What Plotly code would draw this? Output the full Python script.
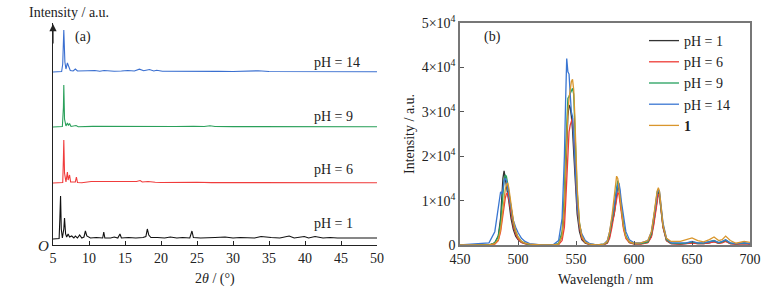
import plotly.graph_objects as go

W, H = 779, 298
FONT = "Liberation Serif"

# ---------------- Panel (a): XRD patterns (intensity above each baseline, a.u.) ----------------
xrd_offsets = {"pH = 1": 6, "pH = 6": 62, "pH = 9": 118, "pH = 14": 173}

ph1_2theta = [5.0, 5.85, 5.95, 6.05, 6.15, 6.3, 6.5, 6.6, 6.75, 6.9, 7.1, 7.3, 7.6, 7.9, 8.1, 8.4, 8.7, 9.0, 9.3,
              9.5, 9.7, 10.2, 11.0, 11.9, 12.05, 12.2, 13.0, 13.5, 14.0, 14.3, 14.5, 15.5, 16.5, 17.5, 17.9, 18.1,
              18.3, 18.6, 19.5, 20.5, 21.3, 22.2, 23.0, 24.0, 24.3, 24.5, 25.5, 26.5, 27.5, 28.9, 30.0, 31.0, 32.0,
              33.0, 33.9, 34.3, 35.3, 36.5, 37.8, 38.5, 39.9, 40.5, 41.4, 42.5, 43.5, 44.5, 45.5, 46.5, 48.2, 49.0, 50.0]
ph1_int = [0, 0.5, 20, 43, 10, 1, 10, 21, 5, 2, 5, 2, 3, 1, 3, 1, 4, 1, 2,
           8, 3, 1, 1.5, 1, 7, 1, 1, 2, 1, 5, 1, 1.5, 1, 1.5, 2.5, 10,
           4, 1.5, 1.5, 1, 2, 1, 1.5, 1, 8, 1.5, 1, 1, 1.5, 2, 1, 1.5, 1,
           1, 2.5, 2, 1.5, 1, 3, 1, 2.5, 1, 2.5, 1, 1.5, 1, 1, 1.5, 1.5, 1, 1]

ph6_2theta = [5.0, 6.35, 6.45, 6.5, 6.6, 6.8, 7.0, 7.1, 7.3, 7.45, 8.1, 8.25, 8.4, 9.0, 10.3, 11.0, 12.0, 13.5, 14.0,
              15.2, 16.2, 16.6, 17.1, 17.4, 18.2, 18.6, 19.2, 20.0, 21.5, 22.8, 23.6, 25.0, 27.0, 30.0, 34.0, 38.0,
              42.0, 46.0, 50.0]
ph6_int = [0, 0.5, 25, 43, 10, 1, 11, 3, 8, 1, 1, 6, 0.5, 0.3, 1.5, 1.5, 1.5, 1.2, 1.5,
           1.5, 1.5, 1.5, 2.5, 1, 1.5, 1.5, 0.8, 0.5, 0.5, 0.7, 1.2, 0.8, 0.4, 0.4, 0.7, 0.4,
           0.3, 0.3, 0.3]

ph9_2theta = [5.0, 6.3, 6.45, 6.5, 6.6, 6.8, 7.0, 7.15, 7.3, 7.5, 8.2, 8.5, 10.5, 12.5, 15.0, 17.0, 18.4, 20.0,
              22.0, 24.5, 26.0, 26.8, 27.5, 30.0, 34.0, 38.0, 42.0, 46.0, 50.0]
ph9_int = [0, 0.5, 20, 42, 8, 1, 4, 1.5, 3.5, 0.5, 1.5, 0.3, 0.6, 0.5, 0.6, 1, 0.8, 0.5,
           0.5, 0.8, 0.5, 1.2, 0.5, 0.4, 0.5, 0.4, 0.4, 0.3, 0.3]

ph14_2theta = [5.0, 6.2, 6.35, 6.5, 6.65, 6.8, 7.0, 7.2, 7.4, 7.8, 8.1, 8.4, 9.0, 9.8, 10.8, 11.5, 12.1, 12.8,
               13.5, 14.5, 15.4, 16.3, 17.0, 17.6, 18.4, 19.0, 19.4, 20.2, 22.0, 23.8, 25.0, 28.0, 30.0, 33.5,
               35.0, 38.0, 41.0, 45.0, 50.0]
ph14_int = [0, 0.5, 8, 42, 10, 3, 9, 6, 1.5, 1, 3, 1, 0.8, 1.2, 1.5, 0.8, 1.5, 0.8,
            0.8, 1, 1.5, 1, 2.8, 1.2, 2.5, 1, 1.8, 0.8, 0.6, 0.9, 0.5, 0.6, 0.5, 1.2,
            0.5, 0.4, 0.5, 0.3, 0.3]

xrd_series = [
    ("pH = 1", ph1_2theta, ph1_int, "#111111"),
    ("pH = 6", ph6_2theta, ph6_int, "#f03c3c"),
    ("pH = 9", ph9_2theta, ph9_int, "#2aa05a"),
    ("pH = 14", ph14_2theta, ph14_int, "#3a6fd0"),
]
xrd_ticks = [5, 10, 15, 20, 25, 30, 35, 40, 45, 50]

# ---------------- Panel (b): emission spectra (intensity in units of 1e4) ----------------
wavelength = [450, 475, 480, 483, 485, 486, 487, 488, 489, 490, 491, 492, 494, 496, 498, 500, 503, 506, 510, 515,
              520, 530, 535, 538, 540, 541, 542, 543, 544, 545, 546, 547, 548, 549, 550, 551, 553, 555, 558, 562,
              568, 574, 577, 579, 581, 583, 584, 585, 586, 587, 588, 589, 591, 593, 596, 600, 606, 612, 615, 617,
              619, 620, 621, 622, 623, 625, 628, 632, 640, 645, 650, 655, 660, 665, 669, 673, 676, 679, 683, 688,
              695, 700]

em_ph1 = [0, 0, 0.05, 0.2, 0.6, 1.1, 1.5, 1.67, 1.5, 1.4, 1.2, 1.0, 0.6, 0.35, 0.2, 0.12, 0.06, 0.03, 0.01, 0,
          0, 0, 0.02, 0.2, 0.8, 1.5, 2.3, 2.9, 3.15, 3.1, 2.9, 2.6, 2.1, 1.6, 1.1, 0.7, 0.3, 0.12, 0.04, 0.01,
          0, 0.01, 0.05, 0.2, 0.5, 0.7, 0.9, 1.15, 1.35, 1.25, 1.0, 0.75, 0.4, 0.18, 0.06, 0.03, 0.03, 0.06, 0.2, 0.5,
          0.9, 1.1, 1.2, 1.1, 0.85, 0.4, 0.1, 0.03, 0.02, 0.03, 0.05, 0.03, 0.03, 0.05, 0.08, 0.04, 0.06, 0.09, 0.03, 0.02,
          0.03, 0.02]
em_ph6 = [0, 0, 0.02, 0.1, 0.3, 0.5, 0.75, 0.95, 1.05, 1.15, 1.17, 1.05, 0.7, 0.42, 0.25, 0.14, 0.06, 0.03, 0.01, 0,
          0, 0, 0.01, 0.1, 0.4, 0.9, 1.5, 2.1, 2.55, 2.7, 2.8, 2.86, 2.5, 1.9, 1.35, 0.9, 0.4, 0.15, 0.05, 0.01,
          0, 0.01, 0.04, 0.15, 0.4, 0.7, 0.9, 1.05, 1.18, 1.15, 0.95, 0.7, 0.35, 0.15, 0.05, 0.02, 0.02, 0.05, 0.18, 0.45,
          0.85, 1.05, 1.15, 1.1, 0.85, 0.4, 0.1, 0.03, 0.02, 0.03, 0.04, 0.03, 0.03, 0.05, 0.07, 0.04, 0.05, 0.08, 0.03, 0.02,
          0.03, 0.02]
em_ph9 = [0, 0, 0.05, 0.2, 0.5, 0.9, 1.25, 1.45, 1.58, 1.55, 1.4, 1.2, 0.8, 0.5, 0.3, 0.18, 0.08, 0.04, 0.01, 0,
          0, 0, 0.03, 0.3, 1.2, 2.1, 2.9, 3.3, 3.35, 3.4, 3.45, 3.53, 3.4, 2.7, 1.9, 1.2, 0.5, 0.2, 0.06, 0.02,
          0, 0.02, 0.06, 0.25, 0.55, 0.85, 1.1, 1.35, 1.45, 1.35, 1.1, 0.85, 0.45, 0.2, 0.07, 0.03, 0.03, 0.07, 0.25, 0.6,
          1.0, 1.2, 1.25, 1.15, 0.9, 0.45, 0.12, 0.04, 0.03, 0.04, 0.07, 0.04, 0.04, 0.07, 0.1, 0.05, 0.07, 0.11, 0.04, 0.03,
          0.04, 0.03]
em_ph14 = [0, 0.05, 0.3, 0.8, 1.2, 1.15, 1.25, 1.45, 1.5, 1.45, 1.3, 1.1, 0.8, 0.55, 0.4, 0.28, 0.15, 0.08, 0.03, 0.01,
           0, 0, 0.1, 0.6, 2.0, 3.2, 4.2, 3.9, 3.85, 3.4, 3.0, 2.9, 2.4, 1.8, 1.3, 0.9, 0.45, 0.25, 0.1, 0.03,
           0, 0.02, 0.1, 0.3, 0.6, 0.9, 1.1, 1.2, 1.35, 1.4, 1.25, 1.0, 0.6, 0.3, 0.12, 0.05, 0.05, 0.1, 0.3, 0.6,
           0.95, 1.15, 1.25, 1.2, 0.95, 0.5, 0.15, 0.05, 0.05, 0.05, 0.08, 0.05, 0.05, 0.08, 0.1, 0.06, 0.08, 0.12, 0.05, 0.03,
           0.05, 0.03]
em_cpd1 = [0, 0, 0.03, 0.12, 0.35, 0.6, 0.9, 1.1, 1.25, 1.35, 1.4, 1.3, 0.9, 0.55, 0.32, 0.18, 0.08, 0.04, 0.02, 0.01,
           0, 0, 0.02, 0.2, 0.9, 1.7, 2.5, 3.0, 3.3, 3.5, 3.68, 3.73, 3.5, 2.9, 2.0, 1.3, 0.5, 0.2, 0.06, 0.02,
           0, 0.02, 0.08, 0.3, 0.65, 1.05, 1.35, 1.55, 1.5, 1.3, 1.05, 0.8, 0.4, 0.18, 0.07, 0.04, 0.05, 0.1, 0.3, 0.65,
           1.05, 1.22, 1.29, 1.2, 0.95, 0.45, 0.15, 0.08, 0.08, 0.12, 0.16, 0.1, 0.07, 0.12, 0.18, 0.1, 0.12, 0.2, 0.1, 0.04,
           0.08, 0.06]

em_series = [
    ("pH = 1", em_ph1, "#333333"),
    ("pH = 6", em_ph6, "#ee3b36"),
    ("pH = 9", em_ph9, "#25a05e"),
    ("pH = 14", em_ph14, "#3a76d2"),
    ("<b>1</b>", em_cpd1, "#d9962c"),
]
em_xticks = [450, 500, 550, 600, 650, 700]
em_yticks = [0, 1, 2, 3, 4, 5]
em_yticktext = ["0", "1×10<sup>4</sup>", "2×10<sup>4</sup>", "3×10<sup>4</sup>", "4×10<sup>4</sup>", "5×10<sup>4</sup>"]

for _, s, _c in em_series:
    assert len(s) == len(wavelength)

# ---------------- Figure ----------------
def px(x):
    return x / W

def py(y):
    return 1 - y / H

fig = go.Figure()

for name, tx, ty, col in xrd_series:
    off = xrd_offsets[name]
    fig.add_trace(go.Scatter(x=tx, y=[v + off for v in ty], mode="lines", line=dict(color=col, width=1.1),
                             xaxis="x", yaxis="y", showlegend=False, hoverinfo="skip"))

for name, vals, col in em_series:
    fig.add_trace(go.Scatter(x=wavelength, y=vals, mode="lines", name=name, line=dict(color=col, width=1.3),
                             xaxis="x2", yaxis="y2"))

ydom = [py(245), py(23)]
FS = 14
fig.update_layout(
    template="none",
    width=W, height=H, margin=dict(l=0, r=0, t=0, b=0, pad=0, autoexpand=False),
    paper_bgcolor="white", plot_bgcolor="white",
    font=dict(family=FONT, size=FS, color="#222"),
    xaxis=dict(domain=[px(53), px(377)], range=[5, 50], tickvals=xrd_ticks, ticks="inside", ticklen=4,
               tickcolor="#222", showline=True, linecolor="#222", linewidth=1.2, showgrid=False, zeroline=False,
               anchor="y", tickfont=dict(size=FS), automargin=False),
    yaxis=dict(domain=ydom, range=[0, 222], showticklabels=False, ticks="", showline=True, linecolor="#222",
               linewidth=1.2, showgrid=False, zeroline=False, anchor="x", automargin=False),
    xaxis2=dict(domain=[px(460), px(750)], range=[450, 700], tickvals=em_xticks, ticks="inside", ticklen=4,
                tickcolor="#555", showline=True, mirror=True, linecolor="#777", linewidth=1.5, showgrid=False,
                zeroline=False, anchor="y2", tickfont=dict(size=FS), automargin=False),
    yaxis2=dict(domain=ydom, range=[0, 5], tickvals=em_yticks, ticktext=em_yticktext, ticks="inside", ticklen=4,
                tickcolor="#555", showline=True, mirror=True, linecolor="#777", linewidth=1.5, showgrid=False,
                zeroline=False, anchor="x2", tickfont=dict(size=FS), automargin=False),
    legend=dict(x=px(644), y=py(25), xanchor="left", yanchor="top", bgcolor="rgba(0,0,0,0)",
                font=dict(family=FONT, size=FS, color="#222"), tracegroupgap=0),
)

ann = [
    dict(text="Intensity / a.u.", x=px(27), y=py(13), xanchor="left", yanchor="middle"),
    dict(text="(a)", x=px(83), y=py(37), xanchor="center", yanchor="middle"),
    dict(text="<i>O</i>", x=px(43), y=py(246), xanchor="center", yanchor="middle", font=dict(size=15)),
    dict(text="2<i>θ</i> / (°)", x=px(215), y=py(279), xanchor="center", yanchor="middle"),
    dict(text="(b)", x=px(492), y=py(37), xanchor="center", yanchor="middle"),
    dict(text="Wavelength / nm", x=px(605), y=py(279), xanchor="center", yanchor="middle"),
    dict(text="Intensity / a.u.", x=px(409), y=py(134), xanchor="center", yanchor="middle", textangle=-90),
]
for name, off, yy in [("pH = 14", 173, 62), ("pH = 9", 118, 117), ("pH = 6", 62, 169), ("pH = 1", 6, 223)]:
    ann.append(dict(text=name, x=px(312), y=py(yy), xanchor="left", yanchor="middle"))
for a in ann:
    a.setdefault("xref", "paper")
    a.setdefault("yref", "paper")
    a.setdefault("showarrow", False)
    fig.add_annotation(**a)

# arrow head on the panel (a) intensity axis
fig.add_annotation(x=5, y=221, ax=5, ay=200, xref="x", yref="y", axref="x", ayref="y", showarrow=True,
                   arrowhead=2, arrowsize=1.2, arrowwidth=1.2, arrowcolor="#222", text="")

fig.write_html("out.html", config={"displayModeBar": False},
               post_script="document.body.style.margin='0px';")
